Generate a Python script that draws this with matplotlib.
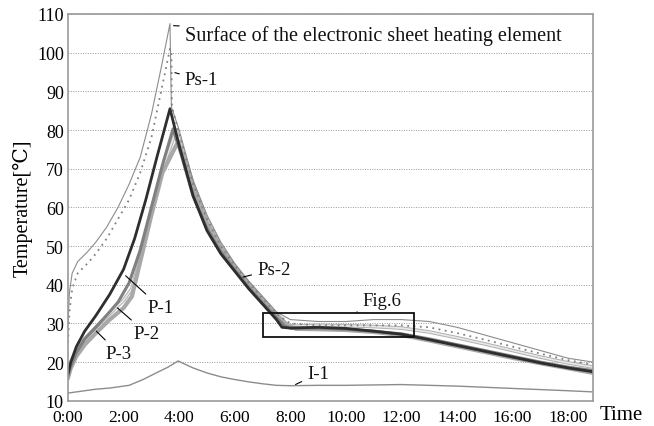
import matplotlib
matplotlib.use("Agg")
import matplotlib.pyplot as plt
from matplotlib.patches import Rectangle

plt.rcParams['font.family'] = ['Liberation Serif', 'DejaVu Serif']

# hours / temperature [C]
surf_t = [0, 0.05, 0.15, 0.35, 0.7, 1.0, 1.4, 1.8, 2.2, 2.6, 3.0, 3.35, 3.67,
          3.72, 4.0, 4.5, 5.0, 5.5, 6.0, 6.5, 7.0, 7.5, 8.0, 9.0, 10.0, 11.0,
          12.0, 13.0, 14.0, 15.0, 16.0, 17.0, 18.0, 18.9]
surf_T = [30, 38, 43, 46, 48.5, 51, 55, 60, 66, 73, 84, 96, 107.5,
          86, 80, 67, 58, 51, 45.5, 41, 37, 33, 31, 30.5, 30.5, 31, 31,
          30.5, 29, 27, 25, 23, 21, 20]

ps1_t = [0, 0.05, 0.15, 0.35, 0.7, 1.0, 1.4, 1.8, 2.2, 2.6, 3.0, 3.35, 3.67,
         3.72, 3.74, 4.0, 4.5, 5.0, 5.5, 6.0, 6.5, 7.0, 7.5, 8.0, 9.0, 10.0,
         11.0, 12.0, 13.0, 14.0, 15.0, 16.0, 17.0, 18.0, 18.9]
ps1_T = [25, 33, 39, 43, 45.5, 48, 52, 57, 62, 69, 78, 90, 101,
         100, 86, 79, 66, 57, 50, 45, 40.5, 36.5, 32.5, 30, 29.5, 29.5,
         29.5, 29.5, 29, 27.5, 25.8, 24, 22.2, 20.5, 19.3]

p1_t = [0, 0.1, 0.3, 0.6, 1.0, 1.5, 2.0, 2.4, 2.8, 3.2, 3.67, 4.0, 4.5, 5.0,
        5.5, 6.0, 6.5, 7.0, 7.5, 7.7, 8.0, 9.0, 10.0, 11.0, 12.0, 13.0, 14.0,
        15.0, 16.0, 17.0, 18.0, 18.9]
p1_T = [17, 20, 24, 28, 32, 37.5, 44, 52, 62, 73, 85.5, 76, 63, 54,
        48, 43.5, 39, 35, 31, 29, 28.8, 29, 28.7, 28, 27.2, 25.8, 24.3,
        22.8, 21.3, 19.8, 18.5, 17.5]

p2_t = [0, 0.1, 0.3, 0.6, 1.0, 1.5, 1.8, 2.2, 2.6, 3.0, 3.4, 3.78, 4.1, 4.5,
        5.0, 5.5, 6.0, 6.5, 7.0, 7.5, 7.8, 8.0, 9.0, 10.0, 11.0, 12.0, 13.0,
        14.0, 15.0, 16.0, 17.0, 18.0, 18.9]
p2_T = [16.5, 19, 22.5, 26, 29, 33, 35.5, 40.5, 49, 60, 71, 80.3, 73, 63,
        54.5, 48.5, 43.8, 39.3, 35.3, 31.5, 29.3, 28.8, 28.8, 28.5, 28, 27.3,
        26, 24.5, 23, 21.5, 20, 18.7, 17.8]

p3_t = [0, 0.1, 0.3, 0.6, 1.0, 1.5, 2.0, 2.3, 2.6, 3.0, 3.4, 3.96, 4.3, 4.7,
        5.0, 5.5, 6.0, 6.5, 7.0, 7.5, 7.9, 8.2, 9.0, 10.0, 11.0, 12.0, 13.0,
        14.0, 15.0, 16.0, 17.0, 18.0, 18.9]
p3_T = [16, 18.5, 21.5, 24.5, 27.5, 31, 34, 37, 46, 58, 69, 77, 70, 61.5,
        56, 49.5, 44.5, 40, 36, 32, 29.5, 28.6, 28.5, 28.3, 27.8, 27, 25.6,
        24.1, 22.6, 21.1, 19.7, 18.4, 17.2]

ps2_t = [0, 0.1, 0.3, 0.6, 1.0, 1.5, 2.0, 2.3, 2.6, 3.0, 3.4, 3.9, 4.5, 5.0,
         5.5, 6.0, 6.5, 7.0, 7.5, 7.9, 8.2, 9.0, 10.0, 11.0, 12.0, 13.0, 14.0,
         15.0, 16.0, 17.0, 18.0, 18.9]
ps2_T = [17.5, 20, 23, 26, 29, 32.5, 36, 39, 47, 59, 70, 80, 66, 57,
         50, 44.8, 40.3, 36.3, 32.5, 29.6, 29.3, 29.5, 29.4, 29.2, 28.8, 27.8,
         26.3, 24.7, 23, 21.3, 19.8, 18.7]

i1_t = [0, 0.5, 1.0, 1.5, 2.2, 2.7, 3.2, 3.6, 3.96, 4.5, 5.0, 5.5, 6.0, 6.5,
        7.0, 7.5, 8.0, 9.0, 10.0, 11.0, 12.0, 13.0, 14.0, 15.0, 16.0, 17.0,
        18.0, 18.9]
i1_T = [12, 12.5, 13, 13.3, 14, 15.5, 17.3, 18.7, 20.3, 18.5, 17.2, 16.2,
        15.5, 14.9, 14.4, 14, 13.9, 14, 14, 14.1, 14.2, 14, 13.8, 13.5, 13.2,
        12.9, 12.6, 12.3]

xticks = [0, 2, 4, 6, 8, 10, 12, 14, 16, 18]
xlabels = ["0:00", "2:00", "4:00", "6:00", "8:00", "10:00", "12:00", "14:00",
           "16:00", "18:00"]
yticks = [10, 20, 30, 40, 50, 60, 70, 80, 90, 100, 110]

fig = plt.figure(figsize=(6.54, 4.27), dpi=100)
ax = fig.add_axes([0.104, 0.059, 0.803, 0.906])

ax.plot(ps2_t, ps2_T, color="#b0b0b0", lw=2.6)
ax.plot(ps2_t, ps2_T, color="#e8e8e8", lw=1.2)
ax.plot(p3_t, p3_T, color="#a8a8a8", lw=3)
ax.plot(p2_t, p2_T, color="#808080", lw=2.2)
ax.plot(p1_t, p1_T, color="#2e2e2e", lw=2)
ax.plot(i1_t, i1_T, color="#8c8c8c", lw=1)
ax.plot(surf_t, surf_T, color="#8c8c8c", lw=0.8)
ax.plot(ps1_t, ps1_T, color="#808080", lw=1.3, ls=(0, (1, 2.5)))

ax.add_patch(Rectangle((7.0, 26.5), 5.45, 6.1, fill=False, ec="#111111",
                       lw=1.3, zorder=5))

ax.set_xlim(0, 18.9)
ax.set_ylim(10, 110)
ax.set_xticks(xticks)
ax.set_xticklabels(xlabels)
ax.set_yticks(yticks)
ax.tick_params(axis="x", length=0, labelsize=12.5, pad=6)
ax.tick_params(axis="y", length=0, labelsize=13, pad=3)
ax.grid(axis="y", color="#999999", ls=(0, (1, 1.5)), lw=0.7)
for s in ax.spines.values():
    s.set_color("#999999")
    s.set_linestyle((0, (1, 1)))
    s.set_linewidth(1.2)

ax.set_ylabel("Temperature[℃]", fontsize=14.5, labelpad=3)
fig.text(0.917, 0.026, "Time", fontsize=15, ha="left", va="center")

lab = dict(fontsize=13.5, color="#111111", va="center")
arrow = dict(arrowstyle="-", lw=0.8)
ax.annotate("Surface of the electronic sheet heating element", xy=(3.7, 107),
            xytext=(4.2, 104.6), arrowprops=arrow, fontsize=14.5,
            color="#111111", va="center")
ax.annotate("Ps-1", xy=(3.75, 95), xytext=(4.2, 93), arrowprops=arrow, **lab)
ax.annotate("Ps-2", xy=(6.2, 41.8), xytext=(6.8, 44), arrowprops=arrow, **lab)
ax.annotate("P-1", xy=(2.0, 42.8), xytext=(2.85, 34.2), arrowprops=arrow, **lab)
ax.annotate("P-2", xy=(1.7, 34.5), xytext=(2.35, 27.5), arrowprops=arrow, **lab)
ax.annotate("P-3", xy=(0.95, 28.5), xytext=(1.35, 22.3), arrowprops=arrow, **lab)
ax.annotate("I-1", xy=(8.1, 13.9), xytext=(8.6, 17), arrowprops=arrow, **lab)
ax.annotate("Fig.6", xy=(10.3, 32.6), xytext=(10.6, 36), arrowprops=arrow, **lab)

fig.savefig("out.png", dpi=100)
